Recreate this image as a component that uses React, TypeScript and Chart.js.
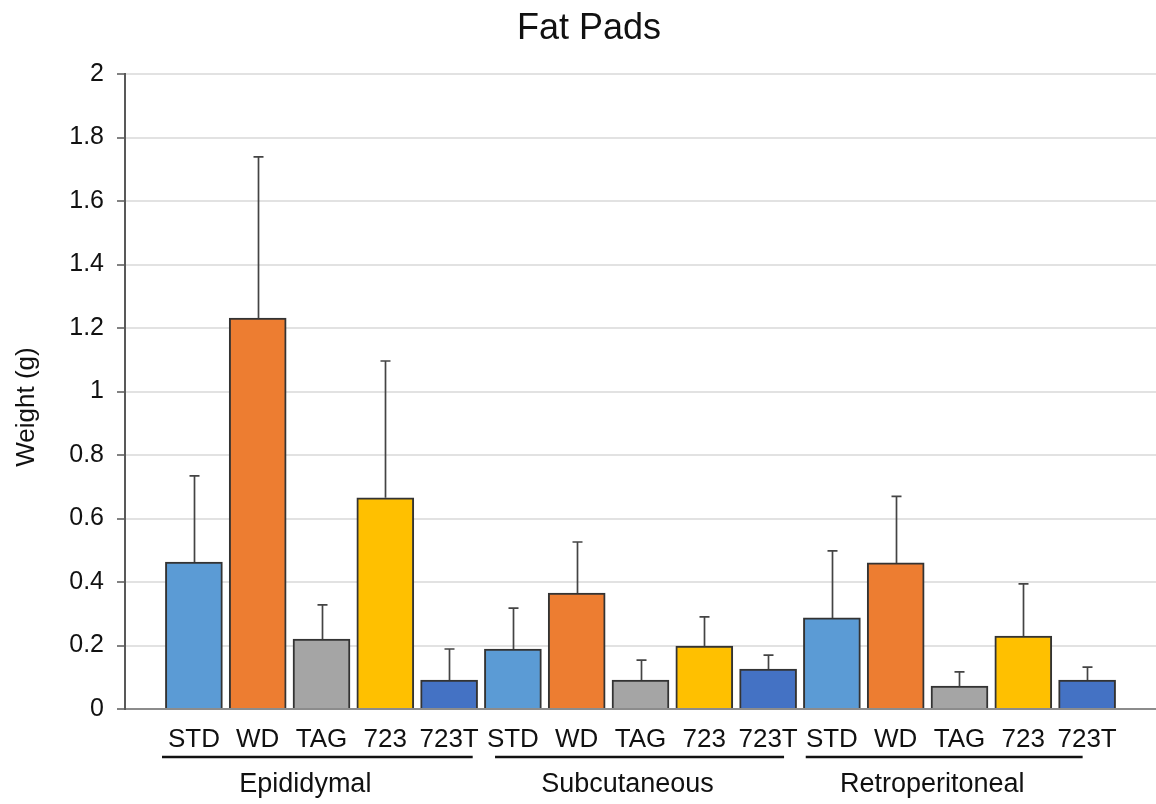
import React, { useEffect, useRef } from "react";
import { Chart, registerables } from "chart.js";

Chart.register(...registerables);

const treatments = ["STD", "WD", "TAG", "723", "723T"];
const groups = ["Epididymal", "Subcutaneous", "Retroperitoneal"];
const treatmentColors = ["#5B9BD5", "#ED7D31", "#A5A5A5", "#FFC000", "#4472C4"];

// values per treatment, across groups [Epididymal, Subcutaneous, Retroperitoneal]
const stdMeans = [0.463, 0.189, 0.287];
const stdErrors = [0.271, 0.129, 0.211];
const wdMeans = [1.231, 0.365, 0.46];
const wdErrors = [0.508, 0.161, 0.21];
const tagMeans = [0.22, 0.091, 0.072];
const tagErrors = [0.108, 0.063, 0.045];
const c723Means = [0.665, 0.198, 0.23];
const c723Errors = [0.431, 0.092, 0.164];
const c723tMeans = [0.091, 0.126, 0.091];
const c723tErrors = [0.098, 0.044, 0.041];

const yTicks = [0, 0.2, 0.4, 0.6, 0.8, 1, 1.2, 1.4, 1.6, 1.8, 2];

const allMeans = [stdMeans, wdMeans, tagMeans, c723Means, c723tMeans];
const allErrors = [stdErrors, wdErrors, tagErrors, c723Errors, c723tErrors];

const FONT = "'Liberation Sans', Arial, sans-serif";
const TEXT = "#111111";

const errorBarPlugin = {
  id: "errorBars",
  afterDatasetsDraw(chart: any) {
    const ctx = chart.ctx;
    const yScale = chart.scales.y;
    ctx.save();
    ctx.strokeStyle = "#444444";
    ctx.lineWidth = 1.7;
    allMeans.forEach((means, d) => {
      const meta = chart.getDatasetMeta(d);
      meta.data.forEach((bar: any, i: number) => {
        const top = yScale.getPixelForValue(means[i] + allErrors[d][i]);
        const x = Math.round(bar.x) + 0.5;
        ctx.beginPath();
        ctx.moveTo(x, bar.y);
        ctx.lineTo(x, top);
        ctx.moveTo(x - 5, top);
        ctx.lineTo(x + 5, top);
        ctx.stroke();
      });
    });
    ctx.restore();
  },
};

const GROUP_LINE_INSETS = [
  [-0.5, 0.37],
  [-0.28, 0.25],
  [-0.41, -0.07],
];

const labelsPlugin = {
  id: "customLabels",
  afterDraw(chart: any) {
    const ctx = chart.ctx;
    const xScale = chart.scales.x;
    const n = treatments.length;
    ctx.save();
    ctx.fillStyle = TEXT;
    // title
    ctx.font = `36px ${FONT}`;
    ctx.textAlign = "center";
    ctx.textBaseline = "alphabetic";
    ctx.fillText("Fat Pads", 589, 39);
    // y axis title
    ctx.save();
    ctx.translate(27, 407);
    ctx.rotate(-Math.PI / 2);
    ctx.font = `26px ${FONT}`;
    ctx.textBaseline = "middle";
    ctx.fillText("Weight (g)", 0, 0);
    ctx.restore();
    // category labels
    groups.forEach((g, gi) => {
      ctx.font = `26px ${FONT}`;
      ctx.textAlign = "center";
      ctx.textBaseline = "alphabetic";
      treatments.forEach((t, ti) => {
        const x = xScale.getPixelForValue(gi * n + ti);
        ctx.fillText(t, x, 747);
      });
      const x0 = xScale.getPixelForValue(gi * n + GROUP_LINE_INSETS[gi][0]);
      const x1 = xScale.getPixelForValue(gi * n + n - 1 + GROUP_LINE_INSETS[gi][1]);
      ctx.strokeStyle = "#111111";
      ctx.lineWidth = 2.5;
      ctx.beginPath();
      ctx.moveTo(x0, 757);
      ctx.lineTo(x1, 757);
      ctx.stroke();
      ctx.font = `27px ${FONT}`;
      ctx.fillText(g, (x0 + x1) / 2 - 12, 792);
    });
    ctx.restore();
  },
};

export default function App() {
  const ref = useRef<HTMLCanvasElement | null>(null);
  useEffect(() => {
    if (!ref.current) return;
    const n = treatments.length;
    const datasets = treatments.map((t, ti) => ({
      label: t,
      data: allMeans[ti].map((v, gi) => ({ x: gi * n + ti, y: v })),
      backgroundColor: treatmentColors[ti],
      borderColor: "#333333",
      borderWidth: 2,
      barThickness: 57,
      grouped: false,
    }));
    const chart = new Chart(ref.current, {
      type: "bar",
      data: { datasets },
      options: {
        animation: false,
        responsive: false,
        devicePixelRatio: 1,
        layout: { padding: { left: 0, right: 0, top: 74, bottom: 95 } },
        plugins: {
          legend: { display: false },
          title: { display: false },
          tooltip: { enabled: false },
        },
        scales: {
          x: {
            type: "linear",
            min: -1.08,
            max: 15.08,
            offset: false,
            bounds: "data",
            ticks: { display: false },
            grid: { display: false, offset: false },
            border: { display: true, color: "#8c8c8c", width: 2 },
            afterFit: (s: any) => {
              s.height = 0;
            },
          },
          y: {
            min: 0,
            max: 2,
            afterBuildTicks: (s: any) => {
              s.ticks = yTicks.map((v) => ({ value: v }));
            },
            ticks: {
              callback: (v: any) => String(Math.round(Number(v) * 10) / 10),
              font: { family: FONT, size: 25 },
              color: TEXT,
              padding: 13,
            },
            grid: {
              color: "#e2e2e2",
              lineWidth: 2,
              tickColor: "#595959",
              tickLength: 8,
              tickWidth: 1.5,
              drawTicks: true,
            },
            border: { display: true, color: "#595959", width: 2 },
            afterFit: (s: any) => {
              s.width = 125;
            },
          },
        },
      },
      plugins: [errorBarPlugin, labelsPlugin],
    } as any);
    return () => chart.destroy();
  }, []);
  return (
    <div
      style={{
        position: "absolute",
        left: 0,
        top: 0,
        width: 1156,
        height: 804,
        background: "#ffffff",
      }}
    >
      <canvas ref={ref} width={1156} height={804} />
    </div>
  );
}
